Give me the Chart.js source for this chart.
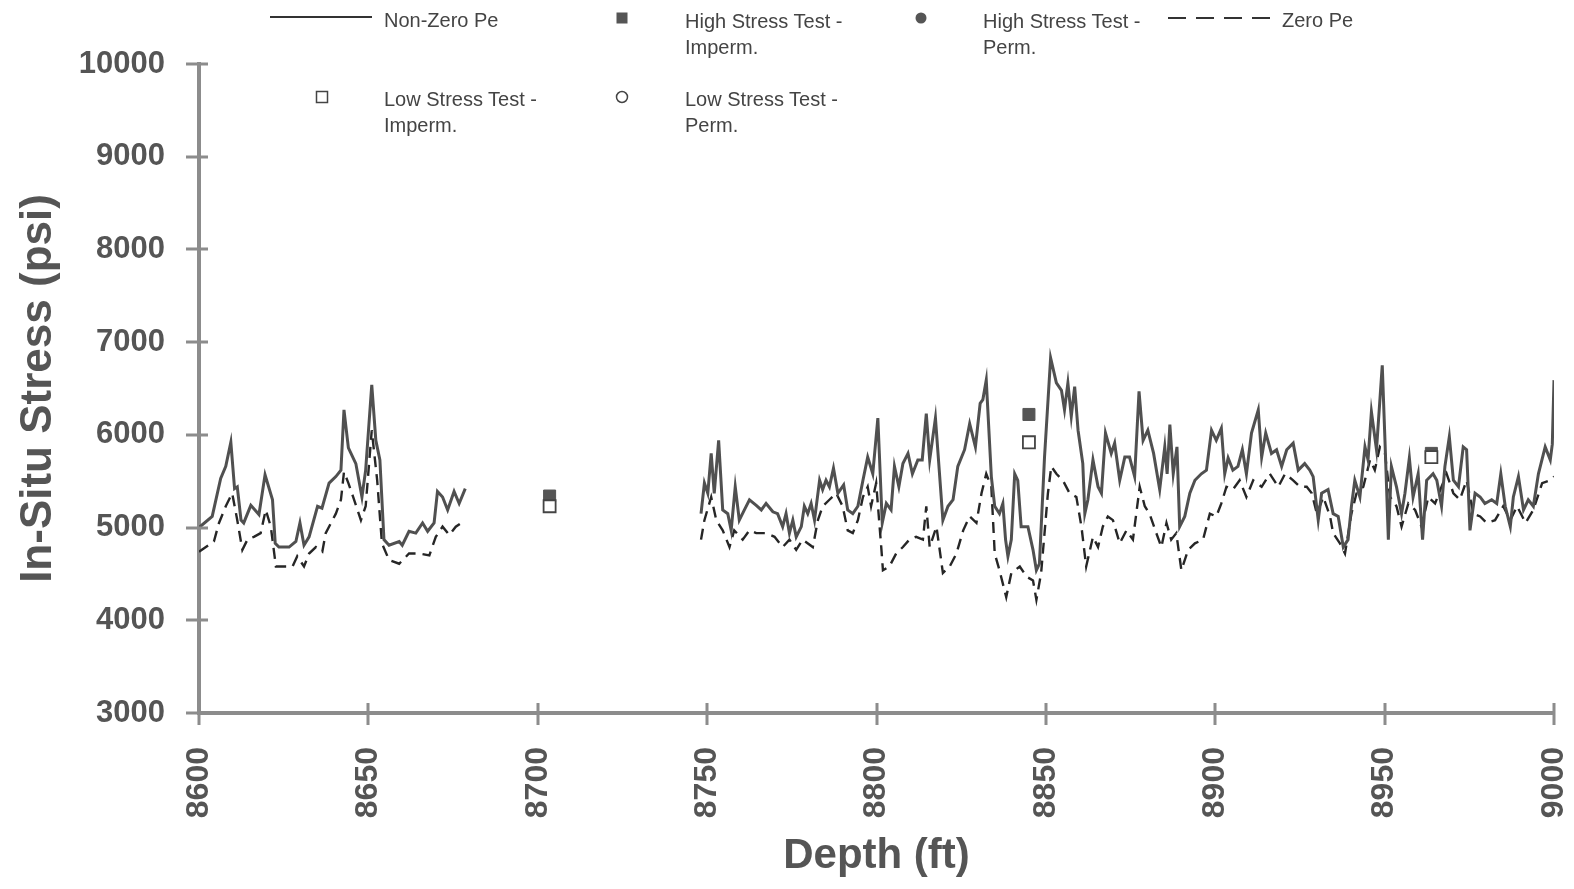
<!DOCTYPE html>
<html lang="en">
<head>
    <meta charset="UTF-8">
    <title>In-Situ Stress vs Depth</title>
    <script src="https://cdn.jsdelivr.net/npm/chart.js"></script>
    <style>
        body { margin: 0; background: #fff; }
        #wrap { position: relative; width: 1574px; height: 889px; }
        #legendSymbols { position: absolute; left: 0; top: 0; pointer-events: none; }
        .lg {
            position: absolute;
            font-family: 'Liberation Sans', Arial, sans-serif;
            font-size: 20px;
            line-height: 26px;
            color: #444;
            white-space: nowrap;
        }
    </style>
</head>
<body>
<div id="wrap">
    <canvas id="stressChart" width="1574" height="889"></canvas>

    <!-- legend, laid out like the original (two rows, four columns) -->
    <svg id="legendSymbols" width="1574" height="140">
        <line x1="270" y1="17" x2="372" y2="17" stroke="#333" stroke-width="2"/>
        <rect x="616.5" y="12.5" width="11" height="11" fill="#555"/>
        <circle cx="921" cy="18" r="5.5" fill="#555"/>
        <line x1="1168" y1="18" x2="1272" y2="18" stroke="#333" stroke-width="2" stroke-dasharray="18 10"/>
        <rect x="316.5" y="91.5" width="11" height="11" fill="none" stroke="#444" stroke-width="1.5"/>
        <circle cx="622" cy="97" r="5.5" fill="none" stroke="#444" stroke-width="1.5"/>
    </svg>
    <div class="lg" style="left:384px; top:7px;">Non-Zero Pe</div>
    <div class="lg" style="left:685px; top:8px;">High Stress Test -<br>Imperm.</div>
    <div class="lg" style="left:983px; top:8px;">High Stress Test -<br>Perm.</div>
    <div class="lg" style="left:1282px; top:7px;">Zero Pe</div>
    <div class="lg" style="left:384px; top:86px;">Low Stress Test -<br>Imperm.</div>
    <div class="lg" style="left:685px; top:86px;">Low Stress Test -<br>Perm.</div>
</div>

<script>
    // ---- data ----
    // null value = no log data between the two logged intervals
    const nonZeroDepth = [
        8600, 8603.9, 8606.4, 8607.9, 8609.4, 8610.5, 8611.3, 8612.4, 8613.2, 8615.3,
        8617.7, 8619.5, 8621.7, 8622.5, 8623.6, 8626.6, 8628.6, 8629.8, 8631, 8632.5,
        8635, 8636.3, 8638.4, 8640.4, 8641.9, 8642.8, 8644.1, 8646.3, 8648.1, 8649.2,
        8651, 8652.2, 8653.4, 8654.6, 8656.1, 8659.1, 8660, 8662, 8664, 8666,
        8667.5, 8669.4, 8670.4, 8671.9, 8673.4, 8675.3, 8676.8, 8678.6,
        8710,
        8748.2, 8749.2, 8750.2, 8751.2, 8752.1, 8753.4, 8754.6, 8756.1, 8757.1, 8758.3,
        8759.5, 8761, 8762.5, 8764.5, 8766, 8767.4, 8769.4, 8770.8, 8772.3, 8773.3,
        8774.3, 8775.3, 8776.3, 8777.8, 8778.7, 8779.7, 8780.7, 8781.7, 8783.2, 8784.1,
        8785.1, 8786.1, 8787.3, 8788.6, 8790.3, 8791.5, 8793, 8794.5, 8796, 8797.4,
        8798.9, 8800.4, 8801.7, 8802.9, 8804.3, 8805.3, 8806.6, 8807.8, 8809.3, 8810.6,
        8812.2, 8813.5, 8814.7, 8815.7, 8817.4, 8819.6, 8821.1, 8822.6, 8824, 8826,
        8827.5, 8829.2, 8830.6, 8831.4, 8832.4, 8833.9, 8834.9, 8836.3, 8837.3, 8838.1,
        8838.8, 8839.8, 8840.8, 8841.7, 8842.7, 8844.7, 8846.2, 8847.2, 8848.1, 8849.6,
        8851.4, 8853.1, 8854.6, 8855.5, 8856.5, 8857.5, 8858.5, 8859.5, 8860.9, 8861.5,
        8862.4, 8863.9, 8865.4, 8866.4, 8867.6, 8869.3, 8870.3, 8871.8, 8873.3, 8874.7,
        8876.2, 8877.5, 8878.7, 8880.1, 8881.8, 8883.6, 8885.1, 8885.8, 8886.6, 8887.6,
        8888.7, 8889.5, 8891, 8892.5, 8894, 8895.9, 8897.4, 8898.9, 8900.3, 8901.8,
        8902.8, 8903.8, 8905.2, 8906.7, 8908, 8909.2, 8910.7, 8912.7, 8913.7, 8914.9,
        8916.6, 8918.1, 8919.6, 8921.1, 8923, 8924.5, 8926.4, 8927.9, 8928.9, 8930.4,
        8931.4, 8933.3, 8934.8, 8936.3, 8937.8, 8939.2, 8940.2, 8941.2, 8942.7, 8944.2,
        8945.1, 8946.1, 8947.6, 8949.3, 8950.1, 8951.1, 8952, 8953.5, 8955, 8956,
        8957.3, 8958.4, 8959.9, 8961.2, 8962.4, 8964.3, 8965.4, 8966.8, 8967.8, 8969.1,
        8970.3, 8971.8, 8973.2, 8974.2, 8975.2, 8976.7, 8978.2, 8979.6, 8981.6, 8983.1,
        8984.3, 8985.6, 8987.1, 8988, 8989.5, 8991, 8992.4, 8993.9, 8995.4, 8997.4,
        8998.9, 8999.5, 9000
    ];
    const nonZeroPe = [
        5000, 5120, 5530, 5660, 5920, 5420, 5440, 5080, 5050, 5240,
        5140, 5570, 5300, 4830, 4790, 4790, 4850, 5050, 4810, 4900,
        5230, 5210, 5480, 5550, 5620, 6270, 5860, 5690, 5330, 5620,
        6540, 5940, 5730, 4870, 4810, 4850, 4810, 4960, 4940, 5050,
        4960, 5050, 5390, 5330, 5190, 5390, 5260, 5420,
        null,
        5150, 5480, 5370, 5800, 5370, 5940, 5190, 5150, 4970, 5440,
        5080, 5190, 5300, 5240, 5190, 5260, 5170, 5150, 5010, 5150,
        4940, 5080, 4900, 5010, 5230, 5150, 5260, 5080, 5510, 5410,
        5510, 5440, 5640, 5370, 5460, 5190, 5150, 5230, 5510, 5760,
        5580, 6180, 5050, 5260, 5190, 5660, 5440, 5690, 5800, 5580,
        5730, 5730, 6230, 5730, 6180, 5080, 5230, 5300, 5660, 5840,
        6120, 5870, 6340, 6380, 6590, 5550, 5230, 5150, 5260, 4870,
        4690, 4870, 5580, 5510, 5010, 5010, 4760, 4540, 4610, 5760,
        6830, 6560, 6480, 6270, 6560, 6200, 6520, 6050, 5690, 5150,
        5300, 5730, 5440, 5370, 6020, 5800, 5910, 5510, 5760, 5760,
        5550, 6470, 5940, 6050, 5800, 5410, 5870, 5580, 6110, 5580,
        5870, 5010, 5120, 5370, 5510, 5580, 5620, 6050, 5940, 6070,
        5580, 5750, 5620, 5660, 5840, 5580, 6020, 6270, 5760, 6020,
        5800, 5840, 5660, 5840, 5910, 5620, 5690, 5620, 5550, 5080,
        5370, 5410, 5150, 5120, 4790, 4870, 5230, 5510, 5330, 5870,
        5730, 6250, 5840, 6750, 5940, 4870, 5660, 5440, 5150, 5370,
        5750, 5330, 5580, 4870, 5510, 5580, 5510, 5230, 5660, 5980,
        5510, 5440, 5870, 5840, 4970, 5370, 5330, 5260, 5300, 5260,
        5580, 5230, 5010, 5330, 5550, 5190, 5300, 5230, 5580, 5870,
        5730, 5900, 6590
    ];

    const zeroDepth = [
        8600, 8604.4, 8605.9, 8607.9, 8609.8, 8611.3, 8612.8, 8614.3, 8616.2, 8618.2,
        8619.7, 8621.2, 8622.7, 8627.6, 8629, 8631, 8632.5, 8634.5, 8636.4, 8637.4,
        8640.4, 8641.9, 8642.8, 8644.1, 8645.5, 8647.8, 8649.2, 8651, 8652.6, 8654,
        8656.1, 8659.1, 8662, 8665, 8668, 8669.9, 8671.9, 8673.9, 8675.8, 8678.6,
        8710,
        8748.2, 8749.2, 8751.2, 8752.7, 8754.6, 8756.6, 8758, 8760.5, 8762.5, 8764.5,
        8767.4, 8769.9, 8772.3, 8774.3, 8776.3, 8778.2, 8781.2, 8782.7, 8784.1, 8786.1,
        8788.1, 8790, 8791.5, 8793, 8794.5, 8796, 8797.4, 8798.4, 8799.9, 8801.4,
        8801.9, 8803.8, 8805.8, 8807.8, 8809.7, 8811.7, 8813.7, 8814.7, 8815.7, 8817.7,
        8819.6, 8821.6, 8823.6, 8825.6, 8827.5, 8829.5, 8831, 8832.4, 8833.9, 8834.9,
        8836.3, 8838.3, 8839.8, 8842.3, 8844.3, 8846.2, 8847.2, 8848.6, 8850.6, 8851.6,
        8853.1, 8855, 8857, 8859, 8860.5, 8861.9, 8863.9, 8865.4, 8866.8, 8868.3,
        8869.8, 8871.8, 8873.8, 8875.7, 8877.7, 8879.2, 8880.6, 8882.6, 8884.1, 8885.6,
        8887, 8888.5, 8890, 8892, 8894, 8896.4, 8898.4, 8900.3, 8901.8, 8903.3,
        8905.2, 8907.2, 8909.2, 8911.2, 8913.7, 8916.1, 8918.6, 8920.6, 8923, 8925,
        8927, 8928.5, 8930, 8931.9, 8933.9, 8934.8, 8936.8, 8938.3, 8940.2, 8941.7,
        8943.7, 8945.7, 8947.1, 8948.6, 8950.1, 8951.6, 8953.5, 8955, 8957, 8959,
        8960.9, 8962.9, 8964.9, 8966.8, 8968.3, 8970.3, 8972.2, 8974.2, 8976.2, 8978.2,
        8980.1, 8982.6, 8985, 8987.1, 8989.1, 8991.6, 8993.9, 8996.5, 8998.9, 9000
    ];
    const zeroPe = [
        4740, 4850, 5050, 5230, 5370, 5080, 4760, 4870, 4900, 4940,
        5190, 5010, 4580, 4580, 4690, 4580, 4720, 4790, 4740, 4940,
        5150, 5300, 5600, 5480, 5330, 5080, 5230, 6050, 5510, 4830,
        4650, 4610, 4720, 4720, 4700, 4900, 5010, 4920, 5010, 5080,
        null,
        4870, 5080, 5330, 5080, 4970, 4790, 4970, 4870, 4970, 4940,
        4940, 4900, 4790, 4870, 4760, 4870, 4790, 5080, 5230, 5300,
        5370, 5230, 4970, 4940, 5080, 5330, 5440, 5230, 5480, 4790,
        4540, 4580, 4720, 4790, 4870, 4900, 4870, 5230, 4790, 5010,
        4510, 4580, 4720, 4970, 5120, 5050, 5370, 5580, 5440, 4720,
        4540, 4250, 4510, 4580, 4470, 4430, 4220, 4510, 5370, 5660,
        5580, 5510, 5370, 5330, 5010, 4580, 4900, 4790, 5010, 5120,
        5080, 4830, 4970, 4870, 5440, 5230, 5150, 4940, 4790, 5050,
        4870, 4940, 4540, 4760, 4830, 4870, 5150, 5120, 5260, 5440,
        5410, 5510, 5330, 5510, 5440, 5580, 5440, 5580, 5510, 5440,
        5440, 5370, 5150, 5330, 5120, 4940, 4830, 4720, 5150, 5370,
        5440, 5730, 5620, 5870, 5800, 5330, 5230, 5010, 5260, 5190,
        5010, 5330, 5260, 5440, 5580, 5370, 5300, 5510, 5150, 5120,
        5050, 5080, 5230, 5080, 5230, 5050, 5190, 5480, 5510, 5550
    ];

    // stress test results
    const highImpermDepth = [8703.5, 8845, 8963.8];
    const highImpermStress = [5340, 6220, 5800];
    const lowImpermDepth = [8703.5, 8845, 8963.8];
    const lowImpermStress = [5230, 5920, 5760];
    const highPermDepth = [];
    const highPermStress = [];
    const lowPermDepth = [];
    const lowPermStress = [];

    const depthTicks = [8600, 8650, 8700, 8750, 8800, 8850, 8900, 8950, 9000];

    // ---- styling ----
    const AXIS_COLOR = '#8c8c8c';
    const TEXT_COLOR = '#555';
    const FONT = "'Liberation Sans', Arial, sans-serif";

    function toPoints(xs, ys) {
        return xs.map((x, i) => ({ x: x, y: ys[i] }));
    }

    // ticks that cross the axis line, like the original
    const crossTicks = {
        id: 'crossTicks',
        afterDraw(chart) {
            const { ctx, chartArea, scales } = chart;
            ctx.save();
            ctx.strokeStyle = AXIS_COLOR;
            ctx.lineWidth = 3;
            ctx.beginPath();
            scales.y.ticks.forEach(t => {
                const py = Math.round(scales.y.getPixelForValue(t.value));
                ctx.moveTo(chartArea.left - 13, py);
                ctx.lineTo(chartArea.left + 9, py);
            });
            scales.x.ticks.forEach(t => {
                const px = Math.round(scales.x.getPixelForValue(t.value));
                ctx.moveTo(px, chartArea.bottom - 10);
                ctx.lineTo(px, chartArea.bottom + 12);
            });
            ctx.stroke();
            ctx.restore();
        }
    };

    const ctx = document.getElementById('stressChart').getContext('2d');
    new Chart(ctx, {
        type: 'scatter',
        data: {
            datasets: [
                {
                    label: 'Low Stress Test - Imperm.',
                    data: toPoints(lowImpermDepth, lowImpermStress),
                    pointStyle: 'rect',
                    pointRadius: 8.5,
                    backgroundColor: '#fff',
                    borderColor: '#444',
                    borderWidth: 1.8
                },
                {
                    label: 'High Stress Test - Imperm.',
                    data: toPoints(highImpermDepth, highImpermStress),
                    pointStyle: 'rect',
                    pointRadius: 8.5,
                    backgroundColor: '#555',
                    borderColor: '#555',
                    borderWidth: 1
                },
                {
                    label: 'High Stress Test - Perm.',
                    data: toPoints(highPermDepth, highPermStress),
                    pointStyle: 'circle',
                    pointRadius: 6,
                    backgroundColor: '#555',
                    borderColor: '#555'
                },
                {
                    label: 'Low Stress Test - Perm.',
                    data: toPoints(lowPermDepth, lowPermStress),
                    pointStyle: 'circle',
                    pointRadius: 6,
                    backgroundColor: '#fff',
                    borderColor: '#444'
                },
                {
                    label: 'Non-Zero Pe',
                    data: toPoints(nonZeroDepth, nonZeroPe),
                    showLine: true,
                    spanGaps: false,
                    pointRadius: 0,
                    borderColor: '#505050',
                    borderWidth: 3,
                    tension: 0
                },
                {
                    label: 'Zero Pe',
                    data: toPoints(zeroDepth, zeroPe),
                    showLine: true,
                    spanGaps: false,
                    pointRadius: 0,
                    borderColor: '#262626',
                    borderWidth: 2.4,
                    borderDash: [11, 7],
                    tension: 0
                }
            ]
        },
        options: {
            responsive: false,
            animation: false,
            layout: { padding: { left: 0, right: 20, top: 64, bottom: 0 } },
            plugins: {
                legend: { display: false },
                tooltip: { enabled: false }
            },
            scales: {
                x: {
                    type: 'linear',
                    min: 8600,
                    max: 9000,
                    afterFit: s => { s.height = 176; s.paddingLeft = 0; s.paddingRight = 0; },
                    afterBuildTicks: s => { s.ticks = depthTicks.map(v => ({ value: v })); },
                    grid: { display: false },
                    border: { display: true, color: AXIS_COLOR, width: 4 },
                    ticks: {
                        minRotation: 90,
                        maxRotation: 90,
                        padding: 26,
                        color: TEXT_COLOR,
                        font: { family: FONT, size: 32, weight: 'bold' },
                        callback: v => String(v)
                    },
                    title: {
                        display: true,
                        text: 'Depth (ft)',
                        color: TEXT_COLOR,
                        font: { family: FONT, size: 42, weight: 'bold' },
                        padding: { top: 0, bottom: 7 }
                    }
                },
                y: {
                    min: 3000,
                    max: 10000,
                    afterFit: s => { s.width = 199; s.paddingTop = 0; s.paddingBottom = 0; },
                    grid: { display: false },
                    border: { display: true, color: AXIS_COLOR, width: 4 },
                    ticks: {
                        stepSize: 1000,
                        padding: 26,
                        color: TEXT_COLOR,
                        font: { family: FONT, size: 31, weight: 'bold' },
                        callback: v => String(v)
                    },
                    title: {
                        display: true,
                        text: 'In-Situ Stress (psi)',
                        color: TEXT_COLOR,
                        font: { family: FONT, size: 44, weight: 'bold' },
                        padding: { top: 12, bottom: 0 }
                    }
                }
            }
        },
        plugins: [crossTicks]
    });
</script>
</body>
</html>
